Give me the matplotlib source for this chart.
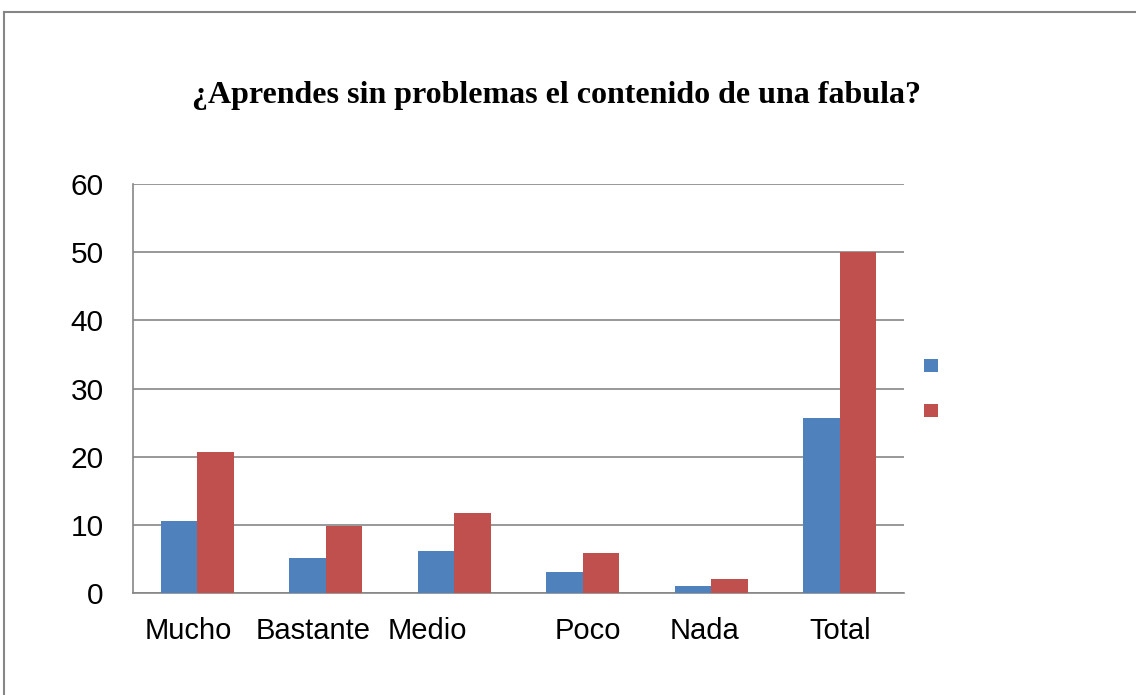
import matplotlib
matplotlib.use("Agg")
import matplotlib.pyplot as plt
import matplotlib.transforms as mtransforms
import numpy as np

categories = ["Mucho", "Bastante", "Medio", "Poco", "Nada", "Total"]
serie1 = [10.6, 5.1, 6.1, 3.1, 1.1, 25.6]
serie2 = [20.7, 9.9, 11.8, 5.9, 2.1, 50.0]
yticks = [0, 10, 20, 30, 40, 50, 60]
title = "¿Aprendes sin problemas el contenido de una fabula?"
label_shift_px = [-9, -13, -27, 5, -7, 0]

blue = "#4F81BD"
red = "#C0504D"

fig = plt.figure(figsize=(11.36, 6.95), dpi=100)
fig.patch.set_facecolor("white")

# outer border (top and left visible)
fig.add_artist(plt.Line2D([4/1136, 1.0], [1-12/695, 1-12/695], color="#868686", lw=1.5,
                          transform=fig.transFigure))
fig.add_artist(plt.Line2D([4/1136, 4/1136], [0, 1-12/695], color="#868686", lw=1.5,
                          transform=fig.transFigure))

ax = fig.add_axes([133/1136, 1-593/695, 771/1136, 409/695])
x = np.arange(len(categories))
w = 1/3.5
b1 = ax.bar(x - w/2, serie1, width=w, color=blue, zorder=3)
b2 = ax.bar(x + w/2, serie2, width=w, color=red, zorder=3)

ax.set_xlim(-0.5, len(categories) - 0.5)
ax.set_ylim(0, 60)
ax.set_yticks(yticks)
ax.set_yticklabels([str(t) for t in yticks], fontfamily="Liberation Sans", fontsize=21.5)
ax.set_xticks(x)
ax.set_xticklabels(categories, fontfamily="Liberation Sans", fontsize=21)
ax.tick_params(axis="both", length=0)
ax.tick_params(axis="y", pad=21)
ax.tick_params(axis="x", pad=17)
for lbl, dx in zip(ax.get_xticklabels(), label_shift_px):
    lbl.set_transform(lbl.get_transform() + mtransforms.ScaledTranslation(dx/100, 0, fig.dpi_scale_trans))

ax.grid(axis="y", color="#868686", lw=1.2, zorder=0)
for s in ["top", "right"]:
    ax.spines[s].set_visible(False)
for s in ["left", "bottom"]:
    ax.spines[s].set_color("#868686")
    ax.spines[s].set_linewidth(1.2)

leg = ax.legend(handles=[b1, b2], labels=["", ""], loc="center left",
                bbox_to_anchor=(1.0, 0.5), frameon=False, handlelength=1.0,
                handleheight=1.1, labelspacing=2.2, fontsize=10, handletextpad=0,
                borderaxespad=1.05)

fig.text(556/1136, 1-95/695, title, ha="center", va="center",
         fontfamily="Liberation Serif", fontweight="bold", fontsize=23)

fig.savefig("out.png", dpi=100, facecolor="white")
